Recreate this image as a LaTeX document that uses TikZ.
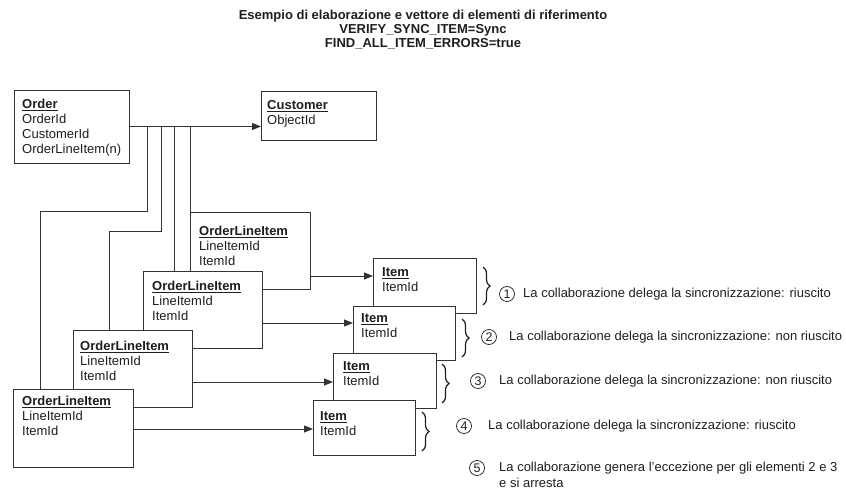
\documentclass[tikz,border=0pt]{standalone}
\usepackage{fontspec}
\setmainfont{Liberation Sans}
\usetikzlibrary{arrows.meta,decorations.pathreplacing}
\definecolor{ink}{HTML}{1E1E1E}
\definecolor{wirec}{HTML}{333333}
\tikzset{
  base/.style={font=\fontsize{13}{15}\selectfont, text=ink},
  box/.style={draw=wirec, line width=0.9pt, fill=white, anchor=north west,
              inner sep=0pt, outer sep=0pt},
  boxtext/.style={base, anchor=north west, inner sep=0pt, align=left},
  wire/.style={draw=wirec, line width=0.9pt},
  arr/.style={wire, -{Triangle[length=9pt,width=7pt]}},
  curly/.style={draw=ink, line width=1.2pt,
                decorate, decoration={brace, amplitude=7pt}},
  num/.style={circle, draw=ink, line width=0.7pt, minimum size=15pt,
              inner sep=0pt, font=\fontsize{12.5}{12.5}\selectfont, text=ink},
  note/.style={base, anchor=west, inner sep=0pt},
}
\newcommand{\hd}[1]{\textbf{\underline{#1}}}
\begin{document}
\begin{tikzpicture}[x=1pt, y=-1pt]
\useasboundingbox (0,0) rectangle (846,494);

% title
\node[base, font=\bfseries\fontsize{13}{14}\selectfont, align=center] (title)
  at (423,30) {Esempio di elaborazione e vettore di elementi di riferimento\\
  VERIFY\_SYNC\_ITEM=Sync\\FIND\_ALL\_ITEM\_ERRORS=true};

% top boxes
\node[box, minimum width=115pt, minimum height=73pt] (order) at (14,90) {};
\node[boxtext] (ordert) at (22,98) {\strut\hd{Order}\\OrderId\\CustomerId\\OrderLineItem(n)};
\node[box, minimum width=115pt, minimum height=49pt] (cust) at (261,91) {};
\node[boxtext] (custt) at (267,99) {\strut\hd{Customer}\\ObjectId};

% corners of the line item boxes
\path (190,212) coordinate (p1) (143,271) coordinate (p2)
      (73,330) coordinate (p3) (13,389) coordinate (p4);

% links from the order to each line item
\coordinate (t4) at (147,211);
\coordinate (k4) at (40,211);
\coordinate (t3) at (161,231);
\coordinate (k3) at (109,231);
\coordinate (t2) at (174,0);
\draw[wire] (order.east) -- (t4 |- order.east);
\draw[wire] (t4 |- order.east) -- (t4) -- (k4) -- (k4 |- p4);
\draw[wire] (t3 |- order.east) -- (t3) -- (k3) -- (k3 |- p3);
\draw[wire] (t2 |- order.east) -- (t2 |- p2);
\draw[wire] (p1 |- order.east) -- (p1);
\draw[arr] (order.east) -- (order.east -| cust.west);

\node[box, minimum width=120pt, minimum height=77pt] (oli1) at (p1) {};
\node[boxtext] (oli1t) at (199,225) {\strut\hd{OrderLineItem}\\LineItemId\\ItemId};
\node[box, minimum width=119pt, minimum height=77pt] (oli2) at (p2) {};
\node[boxtext] (oli2t) at (152,280) {\strut\hd{OrderLineItem}\\LineItemId\\ItemId};
\node[box, minimum width=119pt, minimum height=77pt] (oli3) at (p3) {};
\node[boxtext] (oli3t) at (80,340) {\strut\hd{OrderLineItem}\\LineItemId\\ItemId};
\node[box, minimum width=120pt, minimum height=78pt] (oli4) at (p4) {};
\node[boxtext] (oli4t) at (22,395) {\strut\hd{OrderLineItem}\\LineItemId\\ItemId};

% items
\node[box, minimum width=103pt, minimum height=55pt] (item1) at (373,258) {};
\node[boxtext] (item1t) at (382,266) {\strut\hd{Item}\\ItemId};
\node[box, minimum width=102pt, minimum height=54pt] (item2) at (353,306) {};
\node[boxtext] (item2t) at (361,312) {\strut\hd{Item}\\ItemId};
\node[box, minimum width=103pt, minimum height=55pt] (item3) at (333,353) {};
\node[boxtext] (item3t) at (343,360) {\strut\hd{Item}\\ItemId};
\node[box, minimum width=102pt, minimum height=55pt] (item4) at (313,400) {};
\node[boxtext] (item4t) at (320,410) {\strut\hd{Item}\\ItemId};

% line item -> item links
\coordinate (a1) at (0,276);
\coordinate (a2) at (0,323);
\coordinate (a3) at (0,382);
\coordinate (a4) at (0,429);
\draw[arr] (oli1.east |- a1) -- (item1.west |- a1);
\draw[arr] (oli2.east |- a2) -- (item2.west |- a2);
\draw[arr] (oli3.east |- a3) -- (item3.west |- a3);
\draw[arr] (oli4.east |- a4) -- (item4.west |- a4);

% braces
\draw[curly] (483,267) -- (483,305);
\draw[curly] (462,319) -- (462,357);
\draw[curly] (442,364) -- (442,403);
\draw[curly] (422,412) -- (422,451);

% numbered notes
\node[num] (n1) at (507,294) {1};
\node[note] (m1) at (523,294) {La collaborazione delega la sincronizzazione: riuscito};
\node[num] (n2) at (489,337) {2};
\node[note] (m2) at (509,337) {La collaborazione delega la sincronizzazione: non riuscito};
\node[num] (n3) at (478,381) {3};
\node[note] (m3) at (499,381) {La collaborazione delega la sincronizzazione: non riuscito};
\node[num] (n4) at (464,426) {4};
\node[note] (m4) at (488,426) {La collaborazione delega la sincronizzazione: riuscito};
\node[num] (n5) at (477,468) {5};
\node[note, anchor=north west, align=left, font=\fontsize{13}{16}\selectfont] (m5)
  at (499,462) {La collaborazione genera l’eccezione per gli elementi 2 e 3\\e si arresta};
\end{tikzpicture}
\end{document}
